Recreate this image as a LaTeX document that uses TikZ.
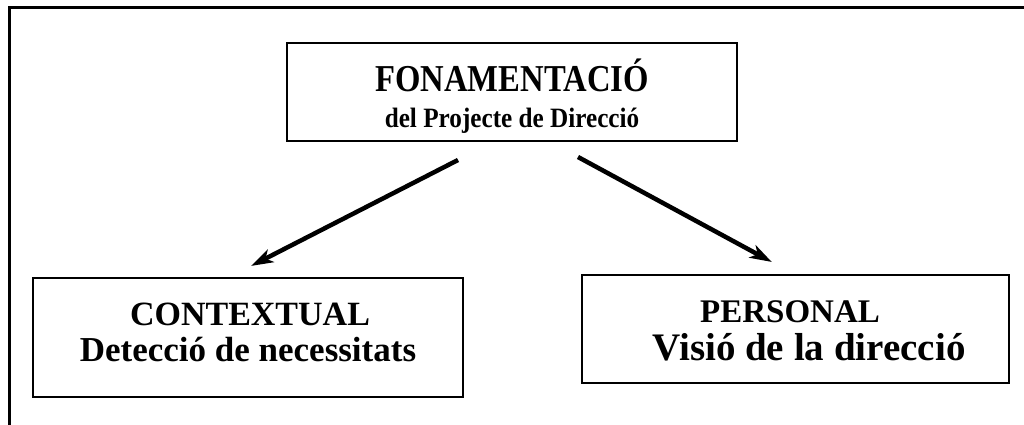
\documentclass[tikz,border=0pt]{standalone}
\usepackage{fontspec}
\setmainfont{Liberation Serif}
\usetikzlibrary{arrows.meta}
\tikzset{
  box/.style={draw=black, line width=2pt, inner sep=0pt},
  txt/.style={anchor=base, inner sep=0pt, font=\bfseries},
  arr/.style={line width=4.5pt, -{Stealth[length=22pt, width=14pt, inset=6pt]}, shorten >=-2pt}
}
\begin{document}
\begin{tikzpicture}[x=1pt, y=-1pt]
\useasboundingbox (0,0) rectangle (1024,425);
% outer frame (open to the right and bottom)
\draw[line width=3pt] (9.5,425) -- (9.5,8) -- (1024,8);
\node[box, minimum width=450pt, minimum height=98pt] (top) at (512,92) {};
\node[box, minimum width=430pt, minimum height=119pt] (ctx) at (248,337.5) {};
\node[box, minimum width=427pt, minimum height=108pt] (per) at (795.5,329) {};
\node[txt, xscale=0.86] (t1) at (512,92) {\fontsize{38}{40}\selectfont FONAMENTACIÓ};
\node[txt, xscale=0.9] (t2) at (512,127.5) {\fontsize{28}{30}\selectfont del Projecte de Direcció};
\node[txt] (c1) at (250,325) {\fontsize{34}{36}\selectfont CONTEXTUAL};
\node[txt] (c2) at (248,361) {\fontsize{35}{36}\selectfont Detecció de necessitats};
\node[txt] (p1) at (790,322) {\fontsize{33}{36}\selectfont PERSONAL};
\node[txt] (p2) at (809,360) {\fontsize{39}{40}\selectfont Visió de la direcció};
\coordinate (a1s) at (458,160);
\coordinate (a1e) at (253,265);
\coordinate (a2s) at (578,157);
\coordinate (a2e) at (770,261);
\draw[arr] (a1s) -- (a1e);
\draw[arr] (a2s) -- (a2e);
\end{tikzpicture}
\end{document}
